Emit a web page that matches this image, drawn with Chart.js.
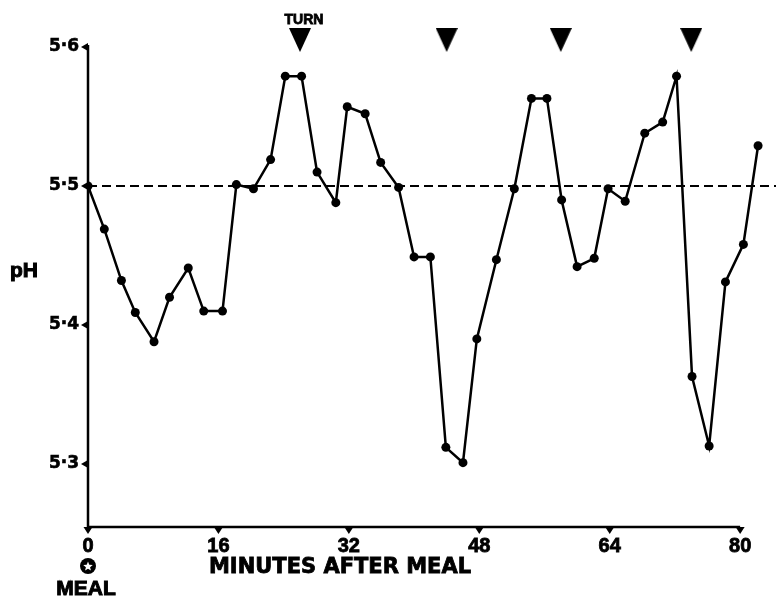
<!DOCTYPE html>
<html>
<head>
<meta charset="utf-8">
<script src="https://cdn.jsdelivr.net/npm/chart.js@4.4.1/dist/chart.umd.min.js"></script>
<style>
  html, body { margin: 0; padding: 0; background: #fff; }
  #wrap { width: 776px; height: 598px; }
</style>
</head>
<body>
<div id="wrap"><canvas id="phChart" width="776" height="598"></canvas></div>
<script>
// minutes after meal
var minutes = [0, 2.0, 4.1, 5.8, 8.1, 10.0, 12.3, 14.2, 16.5, 18.2, 20.3, 22.4, 24.2, 26.2,
    28.1, 30.4, 31.8, 34.0, 35.9, 38.1, 40.0, 42.0, 43.9, 46.0, 47.7, 50.1, 52.3, 54.4,
    56.3, 58.1, 60.0, 62.1, 63.8, 65.9, 68.3, 70.5, 72.2, 74.1, 76.2, 78.2, 80.4, 82.2];
var phValues = [5.500, 5.469, 5.432, 5.409, 5.388, 5.420, 5.441, 5.410, 5.410, 5.501, 5.498,
    5.519, 5.579, 5.579, 5.510, 5.488, 5.557, 5.552, 5.517, 5.499, 5.449, 5.449, 5.312,
    5.301, 5.390, 5.447, 5.498, 5.563, 5.563, 5.490, 5.442, 5.448, 5.498, 5.489, 5.538,
    5.546, 5.579, 5.363, 5.313, 5.431, 5.458, 5.529];
var turnTimes = [26, 44, 58, 74];
var turnLevel = 5.605;
var refLevel = 5.5;
var xTicks = [0, 16, 32, 48, 64, 80];
var yTicks = [5.3, 5.4, 5.5, 5.6];

// narrow downward triangle used for the turn markers
function makeTriangle() {
    var c = document.createElement('canvas');
    c.width = 22; c.height = 24;
    var g = c.getContext('2d');
    g.fillStyle = '#000';
    g.beginPath();
    g.moveTo(0, 0);
    g.lineTo(22, 0);
    g.lineTo(11, 24);
    g.closePath();
    g.fill();
    return c;
}

function drawStar(ctx, cx, cy, outer, inner) {
    ctx.beginPath();
    for (var i = 0; i < 10; i++) {
        var r = i % 2 === 0 ? outer : inner;
        var a = -Math.PI / 2 + i * Math.PI / 5;
        var px = cx + r * Math.cos(a), py = cy + r * Math.sin(a);
        if (i === 0) ctx.moveTo(px, py); else ctx.lineTo(px, py);
    }
    ctx.closePath();
    ctx.fill();
}

function heavyText(ctx, text, x, y, w) {
    ctx.lineWidth = w;
    ctx.strokeText(text, x, y);
    ctx.fillText(text, x, y);
}

var decorations = {
    id: 'decorations',
    afterDatasetsDraw: function (chart) {
        var ctx = chart.ctx;
        var xs = chart.scales.x, ys = chart.scales.y;
        var x0 = xs.getPixelForValue(0);
        var yBottom = chart.chartArea.bottom;
        var yTop = ys.getPixelForValue(5.6);
        ctx.save();
        ctx.strokeStyle = '#000';
        ctx.fillStyle = '#000';
        ctx.lineWidth = 2.5;
        // axes
        ctx.beginPath();
        ctx.moveTo(x0, yTop - 2);
        ctx.lineTo(x0, yBottom);
        ctx.lineTo(xs.getPixelForValue(80), yBottom);
        ctx.stroke();
        // y tick arrows
        yTicks.forEach(function (v) {
            var py = ys.getPixelForValue(v);
            ctx.beginPath();
            ctx.moveTo(x0 - 7, py);
            ctx.lineTo(x0, py - 4);
            ctx.lineTo(x0, py + 4);
            ctx.closePath();
            ctx.fill();
        });
        // x tick arrows
        xTicks.forEach(function (v) {
            var px = xs.getPixelForValue(v);
            ctx.beginPath();
            ctx.moveTo(px - 4.5, yBottom);
            ctx.lineTo(px + 4.5, yBottom);
            ctx.lineTo(px, yBottom + 7);
            ctx.closePath();
            ctx.fill();
        });
        // axis titles
        ctx.textAlign = 'center';
        ctx.textBaseline = 'middle';
        ctx.font = 'bold 21px "Liberation Sans"';
        heavyText(ctx, 'pH', 24, 271, 1);
        ctx.font = 'bold 21px "DejaVu Sans"';
        heavyText(ctx, 'MINUTES AFTER MEAL', 340, 568, 0.8);
        ctx.font = 'bold 21px "Liberation Sans"';
        heavyText(ctx, 'MEAL', 86, 589, 1);
        // meal marker
        ctx.beginPath();
        ctx.arc(x0, 566, 8, 0, Math.PI * 2);
        ctx.fill();
        ctx.fillStyle = '#fff';
        drawStar(ctx, x0, 566.5, 5, 2.2);
        // turn label
        ctx.fillStyle = '#000';
        ctx.font = 'bold 14px "Liberation Sans"';
        heavyText(ctx, 'TURN', xs.getPixelForValue(turnTimes[0]) + 4, 20, 0.8);
        ctx.restore();
    }
};

var phData = minutes.map(function (m, i) { return { x: m, y: phValues[i] }; });
var turnData = turnTimes.map(function (m) { return { x: m, y: turnLevel }; });

var ctx = document.getElementById('phChart');
var phChart = new Chart(ctx.getContext('2d'), {
    type: 'scatter',
    data: {
        datasets: [{
            label: 'pH',
            data: phData,
            showLine: true,
            borderColor: '#000',
            borderWidth: 2.5,
            pointRadius: 4.5,
            pointBackgroundColor: '#000',
            pointBorderWidth: 0,
            order: 1
        }, {
            label: 'reference',
            data: [{ x: 0, y: refLevel }, { x: 84.4, y: refLevel }],
            showLine: true,
            borderColor: '#000',
            borderWidth: 2,
            borderDash: [9, 5],
            pointRadius: 0,
            order: 2
        }, {
            label: 'turn',
            data: turnData,
            showLine: false,
            pointStyle: makeTriangle(),
            pointRadius: 12,
            clip: false,
            order: 0
        }]
    },
    options: {
        responsive: false,
        animation: false,
        layout: {
            autoPadding: false,
            padding: { top: 47, right: 0, left: 0, bottom: 0 }
        },
        plugins: {
            legend: { display: false },
            tooltip: { enabled: false }
        },
        scales: {
            x: {
                type: 'linear',
                min: 0,
                max: 84.4,
                afterBuildTicks: function (scale) {
                    scale.ticks = xTicks.map(function (v) { return { value: v }; });
                },
                afterFit: function (scale) {
                    scale.height = 71;
                    scale.paddingLeft = 0;
                    scale.paddingRight = 0;
                },
                grid: { display: false, drawTicks: false },
                border: { display: false },
                ticks: {
                    padding: 7,
                    color: '#000',
                    font: { family: 'Liberation Sans', weight: 'bold', size: 20 },
                    textStrokeColor: '#000',
                    textStrokeWidth: 0.8,
                    maxRotation: 0
                }
            },
            y: {
                type: 'linear',
                min: 5.2547,
                max: 5.6,
                afterBuildTicks: function (scale) {
                    scale.ticks = yTicks.map(function (v) { return { value: v }; });
                },
                afterFit: function (scale) {
                    scale.width = 88;
                    scale.paddingTop = 0;
                    scale.paddingBottom = 0;
                },
                grid: { display: false, drawTicks: false },
                border: { display: false },
                ticks: {
                    padding: 9,
                    color: '#000',
                    font: { family: 'DejaVu Sans', weight: 'bold', size: 17 },
                    textStrokeColor: '#000',
                    textStrokeWidth: 0.6,
                    callback: function (value) {
                        return value.toFixed(1).replace('.', '\u00b7');
                    }
                }
            }
        }
    },
    plugins: [decorations]
});
</script>
</body>
</html>
